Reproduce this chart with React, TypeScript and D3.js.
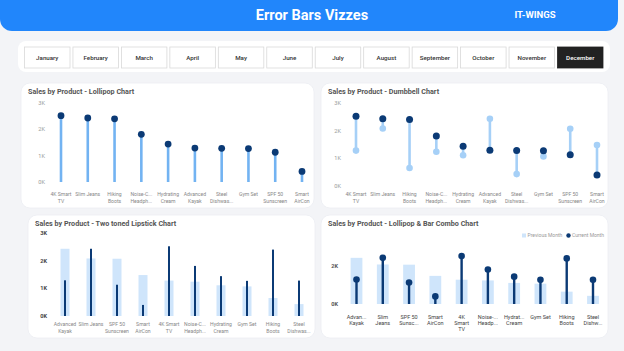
import React from 'react';
import * as d3 from 'd3';

const months = ['January', 'February', 'March', 'April', 'May', 'June', 'July', 'August', 'September', 'October', 'November', 'December'];
const selectedMonth = 'December';

const products = ['4K Smart TV', 'Slim Jeans', 'Hiking Boots', 'Noise-Cancelling Headphones', 'Hydrating Cream', 'Advanced Kayak', 'Steel Dishwasher', 'Gym Set', 'SPF 50 Sunscreen', 'Smart AirCon'];
const currentMonth = [2520, 2430, 2400, 1810, 1440, 1290, 1280, 1270, 1130, 400];
const previousMonth = [1280, 2080, 650, 1240, 1110, 2430, 430, 1070, 2070, 1480];

// axis labels as the visuals wrap / truncate them
const shortLabels = [['4K Smart', 'TV'], ['Slim Jeans'], ['Hiking', 'Boots'], ['Noise-C...', 'Headph...'], ['Hydrating', 'Cream'], ['Advanced', 'Kayak'], ['Steel', 'Dishwas...'], ['Gym Set'], ['SPF 50', 'Sunscreen'], ['Smart', 'AirCon']];
const comboLabels = [['4K', 'Smart', 'TV'], ['Slim', 'Jeans'], ['Hiking', 'Boots'], ['Noise-...', 'Headp...'], ['Hydrat...', 'Cream'], ['Advan...', 'Kayak'], ['Steel', 'Dishw...'], ['Gym Set'], ['SPF 50', 'Sunsc...'], ['Smart', 'AirCon']];

const yTicks = [0, 1000, 2000, 3000];
const comboTicks = [0, 2000];

const FONT = "Roboto, 'Noto Sans', sans-serif";
const DARK = '#0b3a75';
const STEM = '#72b3f2';
const LIGHT_DOT = '#a6d0f7';
const LIGHT_BAR = '#cfe5fb';

const fmtK = (d: number) => `${d / 1000}K`;

type Row = { name: string; cur: number; prev: number; lines: string[]; combo: string[] };
const rows: Row[] = products.map((name, i) => ({ name, cur: currentMonth[i], prev: previousMonth[i], lines: shortLabels[i], combo: comboLabels[i] }));
const byPrev = d3.sort(rows, (a, b) => b.prev - a.prev);

const Panel = ({ x, y, w, h, title }: { x: number; y: number; w: number; h: number; title: string }) => (
  <g>
    <rect x={x} y={y} width={w} height={h} rx={9} fill="#fff" stroke="#eceef2" strokeWidth={0.8} />
    <text x={x + 7} y={y + 10.5} fontSize={7.2} fontWeight="bold" fill="#555" fontFamily={FONT}>{title}</text>
  </g>
);

const XLabels = ({ data, x, y0, lh, color, size, key2 }: any) => (
  <g fontFamily={FONT} fontSize={size} fill={color} textAnchor="middle">
    {data.map((d: Row) => {
      const lines = key2 === 'combo' ? d.combo : d.lines;
      return lines.map((l: string, j: number) => (
        <text key={d.name + j} x={x(d.name)} y={y0 + j * lh}>{l}</text>
      ));
    })}
  </g>
);

const YLabels = ({ ticks, y, x, color, weight }: any) => (
  <g fontFamily={FONT} fontSize={5.6} fill={color} fontWeight={weight} textAnchor="end">
    {ticks.map((t: number) => (
      <text key={t} x={x} y={y(t)} dy="0.35em">{fmtK(t)}</text>
    ))}
  </g>
);

const App = () => {
  // lollipop (top left)
  const x1 = d3.scalePoint<string>().domain(products).range([61, 302]);
  const y1 = d3.scaleLinear().domain([0, 3000]).range([182, 103]);
  // dumbbell (top right)
  const x2 = d3.scalePoint<string>().domain(products).range([356, 597]);
  const y2 = d3.scaleLinear().domain([0, 3000]).range([186, 103]);
  // two toned lipstick (bottom left)
  const x3 = d3.scalePoint<string>().domain(byPrev.map(d => d.name)).range([65, 299]);
  const y3 = d3.scaleLinear().domain([0, 3000]).range([316, 233]);
  // lollipop & bar combo (bottom right)
  const x4 = d3.scalePoint<string>().domain(byPrev.map(d => d.name)).range([356.5, 593]);
  const y4 = d3.scaleLinear().domain([0, 2000]).range([304, 266]);

  const mx = d3.scalePoint<string>().domain(months).range([24.5, 557.5]);

  return (
    <svg width={624} height={351} style={{ position: 'absolute', left: 0, top: 0 }}>
      <rect width={624} height={351} fill="#f3f4f7" />

      {/* header */}
      <path d="M0,0 H618 V19 A12,12 0 0 1 606,31 H12 A12,12 0 0 1 0,19 Z" fill="#2186fb" />
      <text x={312} y={15} dy="0.35em" textAnchor="middle" fill="#fff" fontSize={14.5} fontWeight="bold" fontFamily={FONT}>Error Bars Vizzes</text>
      <text x={535} y={15} dy="0.35em" textAnchor="middle" fill="#fff" fontSize={9.5} fontWeight="bold" fontFamily={FONT}>IT-WINGS</text>

      {/* month slicer */}
      <rect x={18} y={41} width={592} height={31} rx={8} fill="#fff" />
      {months.map(m => {
        const sel = m === selectedMonth;
        return (
          <g key={m}>
            <rect x={mx(m)} y={47} width={45.5} height={21} fill={sel ? '#222' : '#fff'} stroke={sel ? '#222' : '#d9d9d9'} strokeWidth={0.8} />
            <text x={(mx(m) as number) + 22.75} y={57.5} dy="0.35em" textAnchor="middle" fontSize={6.2} fontWeight="500"
              fill={sel ? '#fff' : '#333'} fontFamily={FONT}>{m}</text>
          </g>
        );
      })}

      {/* top left: lollipop */}
      <Panel x={21} y={83} w={293} h={125} title="Sales by Product - Lollipop Chart" />
      <YLabels ticks={yTicks} y={y1} x={45} color="#9a9a9a" weight="normal" />
      {rows.map(d => (
        <g key={d.name}>
          <line x1={x1(d.name)} x2={x1(d.name)} y1={y1(0)} y2={y1(d.cur)} stroke={STEM} strokeWidth={2.6} />
          <circle cx={x1(d.name)} cy={y1(d.cur)} r={3.4} fill={DARK} />
        </g>
      ))}
      <XLabels data={rows} x={x1} y0={196} lh={6.5} color="#888" size={5.1} />

      {/* top right: dumbbell */}
      <Panel x={321} y={83} w={287} h={125} title="Sales by Product - Dumbbell Chart" />
      <YLabels ticks={yTicks} y={y2} x={341} color="#9a9a9a" weight="normal" />
      {rows.map(d => (
        <g key={d.name}>
          <line x1={x2(d.name)} x2={x2(d.name)} y1={y2(d.prev)} y2={y2(d.cur)} stroke={LIGHT_DOT} strokeWidth={2.6} />
          <circle cx={x2(d.name)} cy={y2(d.prev)} r={3.3} fill={LIGHT_DOT} />
          <circle cx={x2(d.name)} cy={y2(d.cur)} r={3.5} fill={DARK} />
        </g>
      ))}
      <XLabels data={rows} x={x2} y0={196} lh={6.5} color="#888" size={5.1} />

      {/* bottom left: two toned lipstick */}
      <Panel x={28} y={215} w={287} h={123} title="Sales by Product - Two toned Lipstick Chart" />
      <YLabels ticks={yTicks} y={y3} x={47} color="#444" weight="bold" />
      {byPrev.map(d => (
        <g key={d.name}>
          <rect x={(x3(d.name) as number) - 4.5} y={y3(d.prev)} width={9} height={y3(0) - y3(d.prev)} fill={LIGHT_BAR} />
          <rect x={(x3(d.name) as number) - 1} y={y3(d.cur)} width={2} height={y3(0) - y3(d.cur)} fill={DARK} />
        </g>
      ))}
      <XLabels data={byPrev} x={x3} y0={326} lh={6.5} color="#888" size={5.1} />

      {/* bottom right: lollipop & bar combo */}
      <Panel x={321} y={215} w={287} h={123} title="Sales by Product - Lollipop & Bar Combo Chart" />
      <g fontFamily={FONT} fontSize={5} fill="#999">
        <rect x={522} y={233.5} width={4} height={4} fill={LIGHT_BAR} />
        <text x={527.5} y={235.5} dy="0.35em">Previous Month</text>
        <circle cx={568.5} cy={235.5} r={2.2} fill={DARK} />
        <text x={572} y={235.5} dy="0.35em">Current Month</text>
      </g>
      <YLabels ticks={comboTicks} y={y4} x={338} color="#555" weight="bold" />
      {byPrev.map(d => (
        <g key={d.name}>
          <rect x={(x4(d.name) as number) - 5.9} y={y4(d.prev)} width={11.8} height={y4(0) - y4(d.prev)} fill={LIGHT_BAR} />
          <line x1={x4(d.name)} x2={x4(d.name)} y1={y4(0)} y2={y4(d.cur)} stroke={DARK} strokeWidth={2.4} />
          <circle cx={x4(d.name)} cy={y4(d.cur)} r={3.3} fill={DARK} />
        </g>
      ))}
      <XLabels data={byPrev} x={x4} y0={318.5} lh={6.3} color="#444" size={5.5} key2="combo" />
    </svg>
  );
};

export default App;
